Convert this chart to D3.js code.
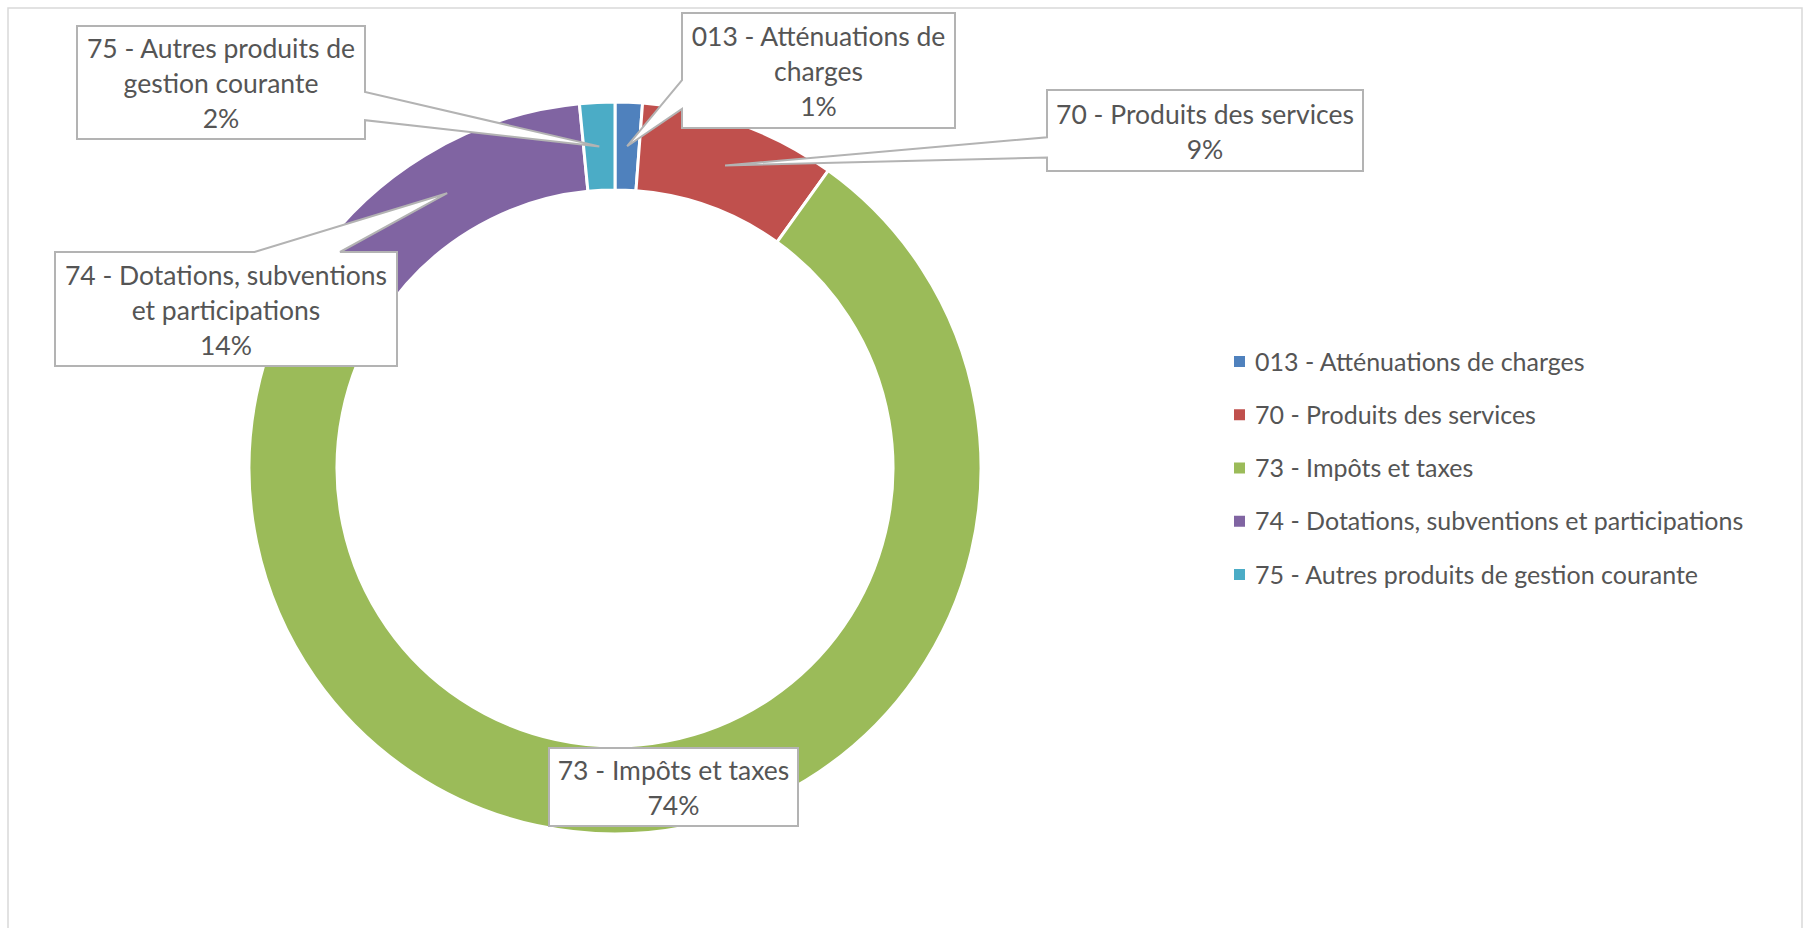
<!DOCTYPE html>
<html>
<head>
<meta charset="utf-8">
<script src="https://cdn.jsdelivr.net/npm/d3@7"></script>
<style>
  html, body { margin: 0; padding: 0; background: #ffffff; }
  svg { display: block; }
  text { font-family: "Lato", "Open Sans", sans-serif; fill: #555555; }
</style>
</head>
<body>
<svg id="chart" width="1805" height="928"></svg>
<script>
// ---- data ----
const categories = [
  "013 - Atténuations de charges",
  "70 - Produits des services",
  "73 - Impôts et taxes",
  "74 - Dotations, subventions et participations",
  "75 - Autres produits de gestion courante"
];
const values = [1.2, 8.7, 74.2, 14.35, 1.55];
const colors = ["#4F81BD", "#C0504D", "#9BBB59", "#8064A2", "#4BACC6"];
const labelLines = [
  ["013 - Atténuations de", "charges"],
  ["70 - Produits des services"],
  ["73 - Impôts et taxes"],
  ["74 - Dotations, subventions", "et participations"],
  ["75 - Autres produits de", "gestion courante"]
];
// label callout boxes (layout)
const labelBoxes = [
  {x: 682, y: 13,  w: 273, h: 115},
  {x: 1047, y: 90, w: 316, h: 81},
  {x: 549, y: 748, w: 249, h: 78},
  {x: 55,  y: 252, w: 342, h: 114},
  {x: 77,  y: 26,  w: 288, h: 113}
];

// ---- layout ----
const W = 1805, H = 928;
const cx = 615, cy = 468, rOuter = 366, rInner = 278;
const labelFont = 26.5, labelLineH = 35;
const legendFont = 25, legendX = 1234, legendY0 = 361.5, legendStep = 53.25, legendMark = 11;

const svg = d3.select("#chart");

// chart frame
svg.append("rect")
  .attr("x", 8).attr("y", 8).attr("width", 1794).attr("height", 940)
  .attr("fill", "#ffffff").attr("stroke", "#D9D9D9").attr("stroke-width", 1.5);

const total = d3.sum(values);
const data = categories.map((c, i) => ({name: c, value: values[i], color: colors[i], lines: labelLines[i], box: labelBoxes[i]}));

const pie = d3.pie().value(d => d.value).sort(null).startAngle(0).endAngle(2 * Math.PI);
const arc = d3.arc().innerRadius(rInner).outerRadius(rOuter);
const arcs = pie(data);

const g = svg.append("g").attr("transform", `translate(${cx},${cy})`);
g.selectAll("path.slice").data(arcs).enter().append("path")
  .attr("class", "slice")
  .attr("d", arc)
  .attr("fill", d => d.data.color)
  .attr("stroke", "#ffffff").attr("stroke-width", 3).attr("stroke-linejoin", "round");

// wedge rectangle callouts (OOXML wedgeRectCallout geometry)
function calloutPath(b, tx, ty) {
  const x = b.x, y = b.y, w = b.w, h = b.h;
  const inside = tx >= x && tx <= x + w && ty >= y && ty <= y + h;
  if (inside) return `M${x},${y}H${x + w}V${y + h}H${x}Z`;
  const dxPos = tx - (x + w / 2), dyPos = ty - (y + h / 2);
  const dx = dxPos * h, dy = dyPos * w;
  const xg1 = dxPos > 0 ? 7 : 2, xg2 = dxPos > 0 ? 10 : 5;
  const yg1 = dyPos > 0 ? 7 : 2, yg2 = dyPos > 0 ? 10 : 5;
  const x1 = x + w * xg1 / 12, x2 = x + w * xg2 / 12;
  const y1 = y + h * yg1 / 12, y2 = y + h * yg2 / 12;
  if (Math.abs(dx) > Math.abs(dy)) {
    if (dxPos < 0) {
      return `M${x},${y}H${x + w}V${y + h}H${x}V${y2}L${tx},${ty}L${x},${y1}Z`;
    } else {
      return `M${x},${y}H${x + w}V${y1}L${tx},${ty}L${x + w},${y2}V${y + h}H${x}Z`;
    }
  } else {
    if (dyPos < 0) {
      return `M${x},${y}H${x1}L${tx},${ty}L${x2},${y}H${x + w}V${y + h}H${x}Z`;
    } else {
      return `M${x},${y}H${x + w}V${y + h}H${x2}L${tx},${ty}L${x1},${y + h}H${x}Z`;
    }
  }
}

const labels = svg.append("g").attr("class", "labels");
arcs.forEach(a => {
  const c = arc.centroid(a);
  const tx = cx + c[0], ty = cy + c[1];
  const b = a.data.box;
  labels.append("path")
    .attr("d", calloutPath(b, tx, ty))
    .attr("fill", "#ffffff").attr("stroke", "#B3B3B3").attr("stroke-width", 2)
    .attr("stroke-linejoin", "miter");
  const pct = Math.round(a.data.value / total * 100) + "%";
  const lines = a.data.lines.concat([pct]);
  const n = lines.length;
  const bcx = b.x + b.w / 2, bcy = b.y + b.h / 2;
  const t = labels.append("text")
    .attr("text-anchor", "middle")
    .attr("font-size", labelFont);
  lines.forEach((ln, i) => {
    t.append("tspan")
      .attr("x", bcx)
      .attr("y", bcy + (i - (n - 1) / 2) * labelLineH + labelFont * 0.4)
      .text(ln);
  });
});

// legend
const legend = svg.append("g").attr("class", "legend");
data.forEach((d, i) => {
  const y = legendY0 + i * legendStep;
  legend.append("rect")
    .attr("x", legendX).attr("y", y - legendMark / 2)
    .attr("width", legendMark).attr("height", legendMark)
    .attr("fill", d.color);
  legend.append("text")
    .attr("x", legendX + 21).attr("y", y + legendFont * 0.36)
    .attr("font-size", legendFont)
    .text(d.name);
});
</script>
</body>
</html>
